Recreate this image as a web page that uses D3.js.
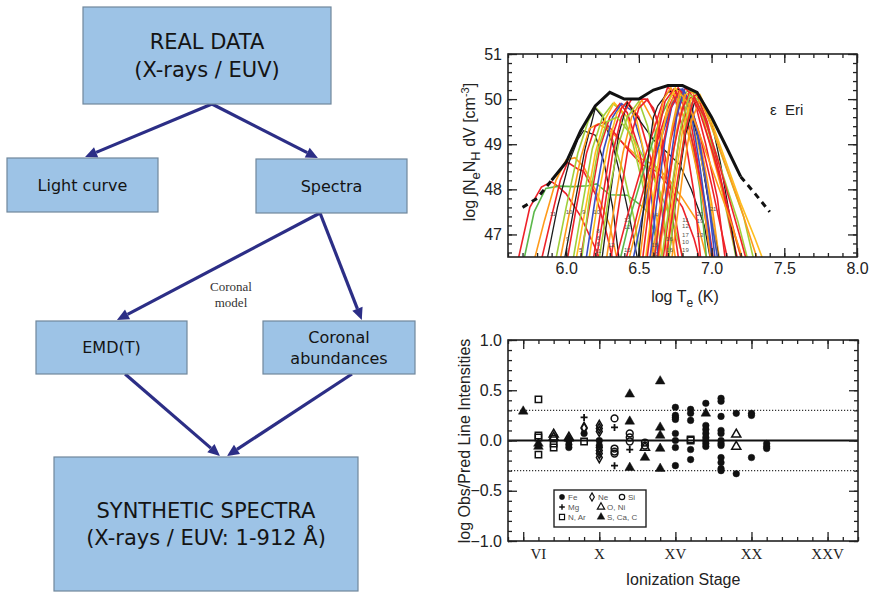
<!DOCTYPE html>
<html>
<head>
<meta charset="utf-8">
<script src="https://cdn.jsdelivr.net/npm/d3@7"></script>
<style>
  body { margin: 0; background: #fff; }
  svg { display: block; font-family: "Liberation Sans", Arial, sans-serif; }
</style>
</head>
<body>
<svg id="fig" width="871" height="595"></svg>
<script>
//////////////////////////////////////////////////////////////////////
// Data
//////////////////////////////////////////////////////////////////////

// Flow chart nodes and links
const flowNodes = [
    { id: 'real',    lines: ['REAL DATA', '(X-rays / EUV)'] },
    { id: 'light',   lines: ['Light curve'] },
    { id: 'spectra', lines: ['Spectra'] },
    { id: 'emd',     lines: ['EMD(T)'] },
    { id: 'coronal', lines: ['Coronal', 'abundances'] },
    { id: 'synth',   lines: ['SYNTHETIC SPECTRA', '(X-rays / EUV: 1-912 Å)'] }
];
const flowLinks = [
    ['real', 'light'], ['real', 'spectra'],
    ['spectra', 'emd'], ['spectra', 'coronal'],
    ['emd', 'synth'], ['coronal', 'synth']
];
const flowNote = ['Coronal', 'model'];

// EMD (log T, log EM) - solid part and dashed extrapolations
const emdT      = [5.9, 6.0, 6.1, 6.2, 6.3, 6.4, 6.5, 6.6, 6.7, 6.8, 6.9, 7.0, 7.1, 7.2];
const emdValue  = [48.2, 48.6, 49.3, 49.85, 50.15, 50.0, 50.0, 50.2, 50.3, 50.3, 50.15, 49.6, 48.95, 48.28];
const emdLowT   = [5.7, 5.8, 5.9];
const emdLowV   = [47.6, 47.8, 48.2];
const emdHighT  = [7.2, 7.3, 7.4];
const emdHighV  = [48.28, 47.9, 47.5];

// Loci curves of the individual lines (element, [log T, log EM])
const lociCurves = [
    { el: 'Fe', pts: [[5.66,46.3],[5.75,47.6],[5.83,48.05],[5.9,48.17],[5.95,48.05],[6.0,47.9],[6.1,47.4],[6.2,46.7],[6.25,46.3]] },
    { el: 'Mg', pts: [[5.7,46.3],[5.78,47.5],[5.86,48.02],[5.95,48.07],[6.05,48.06],[6.15,48.08],[6.21,48.12],[6.3,47.88],[6.42,47.87],[6.5,47.68],[6.56,47.5],[6.62,46.9],[6.66,46.3]] },
    { el: 'Si', pts: [[5.77,46.3],[5.85,47.3],[5.93,48.2],[6.0,48.65],[6.06,48.7],[6.12,48.5],[6.2,48.0],[6.3,47.2],[6.36,46.3]] },
    { el: 'Fe', pts: [[5.82,46.3],[5.9,47.4],[5.96,48.2],[6.01,48.6],[6.08,48.45],[6.12,48.4],[6.2,47.9],[6.28,47.0],[6.33,46.3]] },
    { el: 'C',  pts: [[5.86,46.3],[5.94,47.6],[6.02,48.6],[6.08,49.1],[6.12,49.3],[6.2,49.2],[6.26,48.6],[6.32,47.6],[6.37,46.3]] },
    { el: 'Ne', pts: [[5.92,46.3],[6.0,47.6],[6.08,48.8],[6.15,49.5],[6.2,49.82],[6.25,49.65],[6.32,49.1],[6.4,48.3],[6.47,47.3],[6.52,46.3]] },
    { el: 'C',  pts: [[5.98,46.3],[6.06,47.7],[6.13,48.9],[6.2,49.8],[6.25,49.6],[6.32,49.0],[6.38,48.2],[6.44,47.3],[6.5,46.3]] },
    { el: 'Si', pts: [[5.95,46.3],[6.03,47.6],[6.1,48.7],[6.16,49.35],[6.22,49.45],[6.3,49.3],[6.4,49.0],[6.5,48.7],[6.6,48.55],[6.7,48.25],[6.8,47.8],[6.9,47.3],[6.98,46.3]] },
    { el: 'Fe', pts: [[6.0,46.3],[6.07,47.6],[6.14,48.8],[6.2,49.4],[6.26,49.5],[6.32,49.3],[6.42,48.9],[6.52,48.55],[6.62,48.4],[6.7,48.1],[6.8,47.6],[6.88,46.9],[6.93,46.3]] },
    { el: 'Ne', pts: [[6.04,46.3],[6.12,47.8],[6.18,48.9],[6.25,49.6],[6.32,49.9],[6.38,49.75],[6.46,49.0],[6.52,48.2],[6.57,47.4],[6.62,46.3]] },
    { el: 'S',  pts: [[6.06,46.3],[6.14,47.7],[6.2,48.8],[6.26,49.5],[6.33,49.92],[6.42,49.6],[6.5,48.7],[6.56,47.8],[6.61,46.3]] },
    { el: 'Fe', pts: [[6.09,46.3],[6.17,47.8],[6.23,48.9],[6.3,49.6],[6.37,49.9],[6.42,49.7],[6.5,48.9],[6.56,47.9],[6.6,46.3]] },
    { el: 'O',  pts: [[6.13,46.3],[6.2,47.8],[6.26,48.9],[6.32,49.6],[6.38,49.9],[6.45,49.75],[6.52,49.0],[6.58,48.0],[6.64,46.3]] },
    { el: 'S',  pts: [[6.15,46.3],[6.23,48.0],[6.29,49.0],[6.35,49.7],[6.42,49.94],[6.48,49.6],[6.55,48.6],[6.62,47.4],[6.67,46.3]] },
    { el: 'Fe', pts: [[6.18,46.3],[6.26,48.0],[6.32,49.2],[6.38,49.8],[6.42,49.94],[6.5,49.6],[6.58,48.7],[6.66,47.5],[6.7,46.3]] },
    { el: 'C',  pts: [[6.24,46.3],[6.3,47.8],[6.36,49.2],[6.42,49.92],[6.5,49.55],[6.6,49.1],[6.7,48.8],[6.78,48.55],[6.86,48.0],[6.95,47.2],[7.0,46.3]] },
    { el: 'Ne', pts: [[6.22,46.3],[6.3,48.0],[6.36,49.0],[6.42,49.6],[6.5,49.95],[6.56,49.4],[6.62,48.4],[6.68,47.2],[6.72,46.3]] },
    { el: 'Si', pts: [[6.27,46.3],[6.33,47.6],[6.39,48.8],[6.45,49.6],[6.52,49.98],[6.6,49.5],[6.66,48.4],[6.72,47.1],[6.76,46.3]] },
    { el: 'Fe', pts: [[6.3,46.3],[6.37,47.8],[6.43,49.0],[6.5,49.8],[6.56,50.0],[6.62,49.6],[6.68,48.5],[6.74,47.2],[6.78,46.3]] },
    { el: 'Ne', pts: [[6.1,46.3],[6.16,47.8],[6.22,48.9],[6.28,49.5],[6.35,49.6],[6.45,49.2],[6.55,48.6],[6.65,47.9],[6.75,47.1],[6.82,46.3]] },
    { el: 'Fe', pts: [[6.2,46.3],[6.26,47.5],[6.32,48.8],[6.38,49.6],[6.45,50.0],[6.55,50.0],[6.6,49.8],[6.66,49.1],[6.72,48.0],[6.78,46.8],[6.81,46.3]] },
    { el: 'Mg', pts: [[6.36,46.3],[6.45,47.5],[6.55,48.6],[6.65,49.6],[6.74,50.2],[6.8,50.0],[6.86,49.2],[6.92,48.0],[6.97,46.3]] },
    { el: 'Fe', pts: [[6.4,46.3],[6.5,47.6],[6.6,48.8],[6.7,49.8],[6.77,50.25],[6.84,49.8],[6.9,48.7],[6.96,47.3],[7.0,46.3]] },
    { el: 'Si', pts: [[6.42,46.3],[6.52,47.6],[6.6,48.6],[6.68,49.5],[6.74,50.05],[6.8,50.2],[6.86,49.8],[6.93,48.9],[7.0,47.7],[7.06,46.3]] },
    { el: 'O',  pts: [[6.45,46.3],[6.55,47.8],[6.63,48.9],[6.72,49.8],[6.8,50.22],[6.86,49.9],[6.92,49.0],[6.98,47.7],[7.03,46.3]] },
    { el: 'Fe', pts: [[6.33,46.3],[6.42,47.4],[6.52,48.5],[6.6,49.3],[6.66,49.9],[6.7,50.28],[6.75,50.0],[6.82,49.1],[6.88,47.9],[6.93,46.3]] },
    { el: 'C',  pts: [[6.49,46.3],[6.53,47.5],[6.57,48.9],[6.6,49.6],[6.63,49.85],[6.7,50.15],[6.78,50.22],[6.84,49.9],[6.9,49.2],[6.96,48.1],[7.02,47.0],[7.06,46.3]] },
    { el: 'Si', pts: [[6.5,46.3],[6.56,47.8],[6.62,49.2],[6.67,50.0],[6.72,50.25],[6.78,49.9],[6.86,49.0],[6.94,47.8],[7.0,46.3]] },
    { el: 'Fe', pts: [[6.52,46.3],[6.58,47.9],[6.63,49.2],[6.68,49.95],[6.74,50.22],[6.8,49.9],[6.88,48.9],[6.96,47.6],[7.02,46.3]] },
    { el: 'S',  pts: [[6.54,46.3],[6.6,47.8],[6.65,49.0],[6.7,49.9],[6.75,50.25],[6.82,49.95],[6.9,49.1],[6.98,47.9],[7.05,46.3]] },
    { el: 'O',  pts: [[6.57,46.3],[6.63,47.9],[6.68,49.1],[6.73,49.9],[6.79,50.22],[6.86,49.7],[6.92,48.5],[6.98,47.1],[7.01,46.3]] },
    { el: 'Fe', pts: [[6.55,46.3],[6.6,47.6],[6.66,48.9],[6.72,49.8],[6.78,50.2],[6.84,50.0],[6.92,49.2],[7.0,48.1],[7.08,46.9],[7.12,46.3]] },
    { el: 'Ne', pts: [[6.6,46.3],[6.66,47.9],[6.72,49.2],[6.78,50.0],[6.84,50.2],[6.9,50.1],[6.97,49.4],[7.05,48.3],[7.13,47.1],[7.18,46.3]] },
    { el: 'Fe', pts: [[6.6,46.3],[6.66,47.8],[6.72,49.1],[6.78,49.9],[6.82,50.25],[6.88,50.0],[6.96,49.0],[7.04,47.8],[7.1,46.3]] },
    { el: 'O',  pts: [[6.62,46.3],[6.7,48.2],[6.76,49.6],[6.81,50.2],[6.88,49.6],[6.95,48.4],[7.0,47.3],[7.05,46.3]] },
    { el: 'Si', pts: [[6.63,46.3],[6.7,48.0],[6.76,49.3],[6.82,50.1],[6.87,50.15],[6.94,49.6],[7.02,48.6],[7.12,47.4],[7.22,46.3]] },
    { el: 'Fe', pts: [[6.66,46.3],[6.72,47.8],[6.78,49.2],[6.84,50.0],[6.9,50.1],[6.97,49.5],[7.06,48.3],[7.14,47.0],[7.19,46.3]] },
    { el: 'C',  pts: [[6.7,46.3],[6.76,47.9],[6.82,49.2],[6.88,49.9],[6.93,50.0],[7.0,49.5],[7.06,48.6],[7.12,47.5],[7.18,46.3]] },
    { el: 'S',  pts: [[6.68,46.3],[6.74,48.0],[6.8,49.3],[6.86,50.0],[6.92,50.1],[7.0,49.5],[7.1,48.6],[7.2,47.7],[7.3,46.9],[7.37,46.3]] },
    { el: 'Ne', pts: [[6.7,46.3],[6.76,48.0],[6.82,49.4],[6.88,50.05],[6.94,49.9],[7.02,49.2],[7.12,48.3],[7.22,47.4],[7.3,46.3]] },
    { el: 'Si', pts: [[6.72,46.3],[6.8,48.3],[6.86,49.5],[6.92,50.0],[7.0,49.4],[7.1,48.5],[7.2,47.6],[7.28,46.8],[7.33,46.3]] },
    { el: 'Fe', pts: [[6.62,46.3],[6.68,47.6],[6.74,48.9],[6.8,49.8],[6.85,50.15],[6.92,49.7],[7.0,48.9],[7.08,48.0],[7.16,47.0],[7.22,46.3]] },
    { el: 'Si', pts: [[6.58,46.3],[6.66,47.9],[6.73,49.4],[6.78,50.15],[6.84,49.9],[6.92,49.2],[7.02,48.3],[7.12,47.4],[7.2,46.6],[7.23,46.3]] },
    { el: 'Ne', pts: [[6.65,46.3],[6.72,47.9],[6.79,49.4],[6.85,50.1],[6.9,49.95],[6.98,49.3],[7.08,48.3],[7.18,47.3],[7.26,46.3]] },
    { el: 'Fe', pts: [[6.68,46.3],[6.75,47.9],[6.82,49.3],[6.88,50.05],[6.95,49.6],[7.03,48.8],[7.12,47.8],[7.2,46.9],[7.25,46.3]] }
];

// Small ion-stage numbers written near the bottom of the EMD panel
const lociLabels = [
    ['11',5.91,47.46], ['10',6.02,47.5], ['9',6.12,47.5], ['10',6.21,47.5],
    ['9',6.01,46.9], ['8',6.22,47.08], ['6',6.22,46.93], ['6',6.22,46.79],
    ['5',6.1,46.66], ['11',6.22,46.63], ['12',6.31,46.77], ['15',6.42,46.66],
    ['13',6.42,47.33], ['12',6.42,47.17], ['14',6.61,47.44], ['16',6.71,46.9],
    ['15',6.61,46.77], ['16',6.71,46.66], ['11',6.82,47.32], ['12',6.82,47.18],
    ['17',6.82,46.99], ['10',6.82,46.84], ['19',6.82,46.66], ['20',6.92,47.46],
    ['19',6.92,47.31], ['13',6.92,46.98], ['21',7.01,47.57], ['11',6.61,46.56]
];
const starName = 'ε  Eri';

// Obs/Pred line intensity ratios: [ionization stage, log ratio]
const ratioFe = [[8,0.0],[8,-0.04],[8,-0.07],[9,0.07],[10,0.0],[10,-0.05],
    [15,0.33],[15,0.25],[15,0.23],[15,0.21],[15,0.07],[15,0.0],[15,-0.07],[15,-0.25],
    [16,0.31],[16,0.27],[16,0.2],[16,-0.09],[16,-0.19],
    [17,0.37],[17,0.15],[17,0.11],[17,0.07],[17,0.03],[17,0.0],[17,-0.03],[17,-0.06],
    [18,0.42],[18,0.39],[18,0.24],[18,0.1],[18,0.07],[18,0.0],[18,-0.03],[18,-0.05],
    [18,-0.17],[18,-0.22],[18,-0.28],[18,-0.3],
    [19,0.27],[19,-0.33],[20,0.27],[20,0.25],[20,-0.17],[21,-0.03],[21,-0.06],[21,-0.08]];
const ratioNe = [[9,0.13],[9,0.12],[10,0.15],[10,0.12],[10,0.09],[10,-0.07],[10,-0.1],[10,-0.13],[10,-0.17]];
const ratioSi = [[11,0.22],[11,-0.08],[11,-0.11],[11,-0.13],[12,0.07],[12,0.03],[12,-0.01],[13,-0.02],[13,-0.05]];
const ratioMg = [[9,0.23],[11,0.13],[11,-0.25],[12,-0.09]];
const ratioONi = [[7,0.06],[7,0.03],[8,0.03],[13,-0.07],[19,0.06],[19,-0.06]];
const ratioNAr = [[6,0.41],[6,0.05],[6,0.03],[6,-0.14],[7,0.02],[7,-0.03],[7,-0.07],[9,-0.01],[16,0.01],[16,0.0]];
const ratioSCaC = [[5,0.29],[6,-0.03],[6,-0.06],[8,0.02],[12,0.46],[12,0.19],[12,-0.27],[13,-0.17],
    [14,0.59],[14,0.13],[14,0.05],[14,-0.08],[14,-0.28],[17,0.27]];

const ratioGroups = ['Fe', 'Ne', 'Si', 'Mg', 'O, Ni', 'N, Ar', 'S, Ca, C'];
const ratioSets = [ratioFe, ratioNe, ratioSi, ratioMg, ratioONi, ratioNAr, ratioSCaC];
const stageTicks = [6, 10, 15, 20, 25];
const stageLabels = ['VI', 'X', 'XV', 'XX', 'XXV'];
const limitLines = [0.3, -0.3];

//////////////////////////////////////////////////////////////////////
// Helpers
//////////////////////////////////////////////////////////////////////
const svg = d3.select('#fig');

function _range(a, b, step) {
    return d3.range(Math.round(a / step), Math.round(b / step) + 1).map(i => +(i * step).toFixed(4));
}

// IDL style frame: inward ticks on four sides, labels bottom/left
function _frame(g, x, y, xMajor, xMinor, yMajor, yMinor, xFmt, yFmt) {
    const [x0, x1] = x.range();
    const [y0, y1] = y.range();
    const sides = [
        [d3.axisBottom, x, y0, 0, xMajor, xMinor, xFmt],
        [d3.axisTop,    x, y1, 0, xMajor, xMinor, null],
        [d3.axisLeft,   y, 0, x0, yMajor, yMinor, yFmt],
        [d3.axisRight,  y, 0, x1, yMajor, yMinor, null]
    ];
    sides.forEach(([ax, sc, ty, tx, maj, min, fmt]) => {
        g.append('g').attr('transform', `translate(${tx},${ty})`)
            .call(ax(sc).tickValues(min).tickSize(-4).tickFormat(''))
            .call(s => s.select('.domain').remove());
        const a = g.append('g').attr('transform', `translate(${tx},${ty})`)
            .call(ax(sc).tickValues(maj).tickSize(-9).tickPadding(6).tickFormat(fmt || ''))
            .call(s => s.select('.domain').remove());
        a.selectAll('text').attr('font-size', 16).attr('fill', '#222')
            .attr('font-family', '"Liberation Sans", Arial, sans-serif');
    });
    g.selectAll('.tick line').attr('stroke', '#222').attr('stroke-width', 1.3);
    g.append('rect')
        .attr('x', x0).attr('y', y1)
        .attr('width', x1 - x0).attr('height', y0 - y1)
        .attr('fill', 'none').attr('stroke', '#222').attr('stroke-width', 1.6);
}

//////////////////////////////////////////////////////////////////////
// Flow chart
//////////////////////////////////////////////////////////////////////
function drawFlow() {
    const box = {
        real:    { x: 83,  y: 7,   w: 248, h: 97,  fs: 21 },
        light:   { x: 7,   y: 158, w: 151, h: 54,  fs: 16 },
        spectra: { x: 256, y: 159, w: 151, h: 54,  fs: 16 },
        emd:     { x: 36,  y: 321, w: 151, h: 53,  fs: 16 },
        coronal: { x: 263, y: 321, w: 152, h: 53,  fs: 16 },
        synth:   { x: 54,  y: 457, w: 304, h: 134, fs: 21 }
    };
    // arrow anchors: fraction of the source / target width
    const anchor = {
        'real-light': [0.52, 0.517], 'real-spectra': [0.52, 0.41],
        'spectra-emd': [0.424, 0.536], 'spectra-coronal': [0.424, 0.65],
        'emd-synth': [0.59, 0.546], 'coronal-synth': [0.585, 0.569]
    };
    const navy = '#2c2e86';
    const g = svg.append('g').attr('font-family', '"DejaVu Sans", Verdana, sans-serif');

    flowLinks.forEach(([s, t]) => {
        const [fs, ft] = anchor[`${s}-${t}`];
        const a = box[s], b = box[t];
        const x1 = a.x + a.w * fs, y1 = a.y + a.h;
        const x2 = b.x + b.w * ft, y2 = b.y - 1;
        const ang = Math.atan2(y2 - y1, x2 - x1);
        const hl = 12, hw = 5.5;
        const bx = x2 - hl * Math.cos(ang), by = y2 - hl * Math.sin(ang);
        g.append('line')
            .attr('x1', x1).attr('y1', y1).attr('x2', bx).attr('y2', by)
            .attr('stroke', navy).attr('stroke-width', 3.2);
        const px = -Math.sin(ang) * hw, py = Math.cos(ang) * hw;
        g.append('path')
            .attr('d', `M${x2},${y2}L${bx + px},${by + py}L${bx - px},${by - py}Z`)
            .attr('fill', navy);
    });

    flowNodes.forEach(n => {
        const b = box[n.id];
        g.append('rect')
            .attr('x', b.x).attr('y', b.y).attr('width', b.w).attr('height', b.h)
            .attr('fill', '#9dc3e6').attr('stroke', '#70879c').attr('stroke-width', 1.2);
        const lh = b.fs * 1.3;
        const cy = b.y + b.h / 2 - (n.lines.length - 1) * lh / 2;
        n.lines.forEach((t, i) => {
            g.append('text')
                .attr('x', b.x + b.w / 2).attr('y', cy + i * lh)
                .attr('dy', '0.36em')
                .attr('text-anchor', 'middle')
                .attr('font-size', b.fs).attr('fill', '#141414')
                .text(t);
        });
    });

    flowNote.forEach((t, i) => {
        svg.append('text')
            .attr('x', 231).attr('y', 291 + i * 16)
            .attr('text-anchor', 'middle')
            .attr('font-family', '"Liberation Serif", "Times New Roman", serif')
            .attr('font-size', 13).attr('fill', '#333')
            .text(t);
    });
}

//////////////////////////////////////////////////////////////////////
// EMD panel
//////////////////////////////////////////////////////////////////////
function drawEmd() {
    const x = d3.scaleLinear().domain([5.6, 8.0]).range([508, 857]);
    const y = d3.scaleLinear().domain([46.5, 51]).range([257, 54]);
    const g = svg.append('g');

    g.append('clipPath').attr('id', 'emd-clip')
        .append('rect').attr('x', 508).attr('y', 54).attr('width', 349).attr('height', 203);

    const color = d3.scaleOrdinal()
        .domain(['Fe', 'Si', 'S', 'Ne', 'Mg', 'O', 'C'])
        .range(['#ee2229', '#ff9a1a', '#ffbe1e', '#a2cf3a', '#5bb84a', '#3c4fc0', '#1c1c1c']);

    const line = d3.line().x(d => x(d[0])).y(d => y(d[1]));
    const curves = g.append('g').attr('clip-path', 'url(#emd-clip)');

    curves.selectAll('path.locus')
        .data(lociCurves)
        .join('path')
        .attr('class', 'locus')
        .attr('d', d => line(d.pts))
        .attr('fill', 'none')
        .attr('stroke', d => color(d.el))
        .attr('stroke-width', d => d.el === 'C' ? 1.3 : 1.6);

    g.selectAll('text.ion')
        .data(lociLabels)
        .join('text')
        .attr('class', 'ion')
        .attr('x', d => x(d[1])).attr('y', d => y(d[2]))
        .attr('text-anchor', 'middle').attr('dy', '0.35em')
        .attr('font-size', 6).attr('fill', '#555')
        .text(d => d[0]);

    curves.append('path')
        .attr('d', line(d3.zip(emdT, emdValue)))
        .attr('fill', 'none').attr('stroke', '#111').attr('stroke-width', 3);
    [[emdLowT, emdLowV], [emdHighT, emdHighV]].forEach(([t, v]) => {
        curves.append('path')
            .attr('d', line(d3.zip(t, v)))
            .attr('fill', 'none').attr('stroke', '#111').attr('stroke-width', 3)
            .attr('stroke-dasharray', '6,5');
    });

    _frame(g, x, y,
        [6.0, 6.5, 7.0, 7.5, 8.0], _range(5.6, 8.0, 0.1),
        [47, 48, 49, 50, 51], _range(46.6, 51, 0.2),
        d3.format('.1f'), d3.format('d'));

    g.append('text')
        .attr('x', 770).attr('y', 115)
        .attr('font-size', 15).attr('fill', '#222')
        .attr('xml:space', 'preserve')
        .text(starName);

    // x label: log T_e (K)
    const xl = g.append('text')
        .attr('x', 685).attr('y', 302)
        .attr('text-anchor', 'middle')
        .attr('font-size', 16).attr('fill', '#222');
    xl.append('tspan').text('log T');
    xl.append('tspan').attr('dy', 5).attr('font-size', 12).text('e');
    xl.append('tspan').attr('dy', -5).text(' (K)');

    // y label: log ∫NeNH dV [cm^-3]
    const yl = g.append('text')
        .attr('transform', 'translate(475,152) rotate(-90)')
        .attr('text-anchor', 'middle')
        .attr('font-size', 16).attr('fill', '#222');
    yl.append('tspan').text('log ∫N');
    yl.append('tspan').attr('dy', 5).attr('font-size', 13).text('e');
    yl.append('tspan').attr('dy', -5).text('N');
    yl.append('tspan').attr('dy', 5).attr('font-size', 13).text('H');
    yl.append('tspan').attr('dy', -5).text(' dV [cm');
    yl.append('tspan').attr('dy', -6).attr('font-size', 11).text('-3');
    yl.append('tspan').attr('dy', 6).text(']');
}

//////////////////////////////////////////////////////////////////////
// Obs / Pred panel
//////////////////////////////////////////////////////////////////////
function drawRatios() {
    const x = d3.scaleLinear().domain([4, 27]).range([508, 858]);
    const y = d3.scaleLinear().domain([-1, 1]).range([541, 340]);
    const g = svg.append('g');

    limitLines.forEach(v => {
        g.append('line')
            .attr('x1', x(4)).attr('x2', x(27)).attr('y1', y(v)).attr('y2', y(v))
            .attr('stroke', '#333').attr('stroke-width', 1.2).attr('stroke-dasharray', '1.2,1.8');
    });
    g.append('line')
        .attr('x1', x(4)).attr('x2', x(27)).attr('y1', y(0)).attr('y2', y(0))
        .attr('stroke', '#111').attr('stroke-width', 1.8);

    // marker shape per group: [symbol, size, filled]
    const shape = {
        'Fe':       [d3.symbolCircle, 34, true],
        'Ne':       [d3.symbolDiamond, 30, false],
        'Si':       [d3.symbolCircle, 36, false],
        'Mg':       ['plus', 7, true],
        'O, Ni':    [d3.symbolTriangle, 36, false],
        'N, Ar':    [d3.symbolSquare, 40, false],
        'S, Ca, C': [d3.symbolTriangle, 40, true]
    };
    function marker(sel, key) {
        const [sym, size, filled] = shape[key];
        if (sym === 'plus') {
            const h = size / 2;
            sel.attr('d', `M${-h},0H${h}M0,${-h}V${h}`)
                .attr('fill', 'none').attr('stroke', '#111').attr('stroke-width', 1.8);
        } else {
            sel.attr('d', d3.symbol(sym, size)())
                .attr('fill', filled ? '#111' : 'none')
                .attr('stroke', '#111').attr('stroke-width', filled ? 0.5 : 1.5);
        }
    }

    ratioSets.forEach((set, i) => {
        const key = ratioGroups[i];
        g.append('g').selectAll('path')
            .data(set)
            .join('path')
            .attr('transform', d => `translate(${x(d[0])},${y(d[1])})`)
            .call(marker, key);
    });

    _frame(g, x, y,
        [5, 10, 15, 20, 25], _range(4, 27, 1),
        [-1, -0.5, 0, 0.5, 1], _range(-1, 1, 0.1),
        () => '', d3.format('.1f'));

    // roman stage labels
    g.selectAll('text.stage')
        .data(stageTicks)
        .join('text')
        .attr('class', 'stage')
        .attr('x', d => x(d)).attr('y', 559)
        .attr('text-anchor', 'middle')
        .attr('font-family', '"Liberation Serif", "Times New Roman", serif')
        .attr('font-size', 15).attr('fill', '#222')
        .text((d, i) => stageLabels[i]);

    g.append('text')
        .attr('x', 683).attr('y', 585)
        .attr('text-anchor', 'middle')
        .attr('font-size', 16).attr('fill', '#222')
        .text('Ionization Stage');

    g.append('text')
        .attr('transform', 'translate(470,441) rotate(-90)')
        .attr('text-anchor', 'middle')
        .attr('font-size', 16).attr('fill', '#222')
        .text('log Obs/Pred Line Intensities');

    // legend
    const lg = g.append('g');
    lg.append('rect')
        .attr('x', 554).attr('y', 490).attr('width', 92).attr('height', 37)
        .attr('fill', '#fff').attr('stroke', '#222').attr('stroke-width', 1.4);
    const cols = [562, 592, 622];
    const rows = [497, 507, 517];
    const slots = {
        'Fe': [cols[0], rows[0]], 'Ne': [cols[1], rows[0]], 'Si': [cols[2], rows[0]],
        'Mg': [cols[0], rows[1]], 'O, Ni': [601, rows[1]],
        'N, Ar': [cols[0], rows[2]], 'S, Ca, C': [601, rows[2]]
    };
    ratioGroups.forEach(key => {
        const [lx, ly] = slots[key];
        lg.append('path')
            .attr('transform', `translate(${lx},${ly}) scale(0.8)`)
            .call(marker, key);
        lg.append('text')
            .attr('x', lx + 6).attr('y', ly).attr('dy', '0.35em')
            .attr('font-size', 8).attr('fill', '#555')
            .text(key);
    });
}

drawFlow();
drawEmd();
drawRatios();
</script>
</body>
</html>
